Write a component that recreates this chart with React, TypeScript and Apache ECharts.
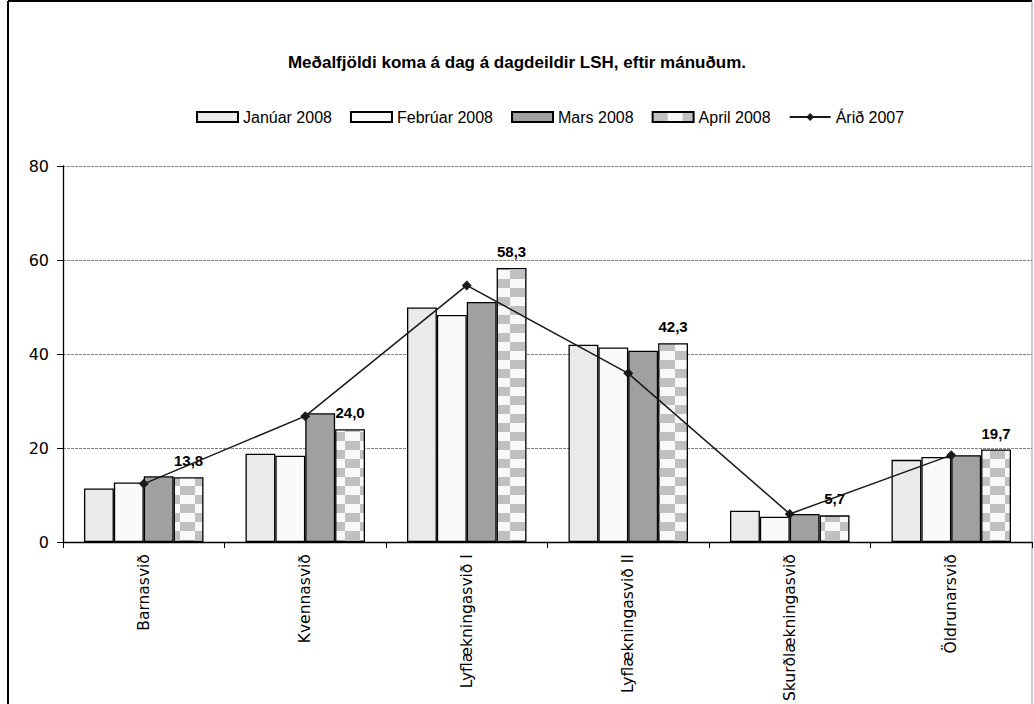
import React, { useEffect, useRef } from 'react';
import * as echarts from 'echarts';

const categories = ['Barnasvið', 'Kvennasvið', 'Lyflækningasvið I', 'Lyflækningasvið II', 'Skurðlækningasvið', 'Öldrunarsvið'];
const seriesNames = ['Janúar 2008', 'Febrúar 2008', 'Mars 2008', 'April 2008', 'Árið 2007'];
const jan2008 = [11.4, 18.8, 49.9, 42.0, 6.7, 17.5];
const feb2008 = [12.7, 18.4, 48.3, 41.4, 5.4, 18.1];
const mar2008 = [14.0, 27.4, 51.1, 40.7, 6.0, 18.5];
const apr2008 = [13.8, 24.0, 58.3, 42.3, 5.7, 19.7];
const year2007 = [12.4, 26.8, 54.6, 35.9, 6.0, 18.5];
const yTicks = { min: 0, max: 80, interval: 20 };

const TEXT_FONT = '"DejaVu Sans", sans-serif';
const ARIAL_FONT = '"Liberation Sans", Arial, sans-serif';

function makePattern(): HTMLCanvasElement {
  const c = document.createElement('canvas');
  c.width = 30;
  c.height = 18;
  const ctx = c.getContext('2d')!;
  ctx.fillStyle = '#f8f8f8';
  ctx.fillRect(0, 0, 30, 18);
  ctx.fillStyle = '#c0c0c0';
  ctx.fillRect(0, 0, 15, 9);
  ctx.fillRect(15, 9, 15, 9);
  return c;
}

export default function App() {
  const ref = useRef<HTMLDivElement>(null);
  useEffect(() => {
    if (!ref.current) return;
    const chart = echarts.init(ref.current, null, { renderer: 'svg' });
    const pattern = makePattern();
    const barStyle = (color: any) => ({ color, borderColor: '#000', borderWidth: 1.3 });
    const fmt = (p: any) => Number(p.value).toFixed(1).replace('.', ',');
    chart.setOption({
      animation: false,
      backgroundColor: '#fff',
      title: {
        text: 'Meðalfjöldi koma á dag á dagdeildir LSH, eftir mánuðum.',
        left: 'center',
        top: 49,
        textStyle: { fontFamily: ARIAL_FONT, fontSize: 17, fontWeight: 'bold', color: '#000' },
      },
      legend: {
        left: 191,
        top: 104,
        itemWidth: 41,
        itemHeight: 10,
        itemGap: 18,
        textStyle: { fontFamily: ARIAL_FONT, fontSize: 16, color: '#000' },
        data: seriesNames.map((n, i) => (i < 4 ? { name: n, icon: 'rect' } : { name: n })),
      },
      grid: { left: 63, right: 2, top: 166, bottom: 161, containLabel: false },
      xAxis: {
        type: 'category',
        data: categories,
        axisLine: { lineStyle: { color: '#000', width: 1.3 } },
        axisTick: { show: true, length: 6, lineStyle: { color: '#000' } },
        axisLabel: { rotate: 90, margin: 12, fontFamily: TEXT_FONT, fontSize: 15.5, color: '#000', interval: 0 },
      },
      yAxis: {
        type: 'value',
        min: yTicks.min,
        max: yTicks.max,
        interval: yTicks.interval,
        axisLine: { show: true, lineStyle: { color: '#000', width: 1.3 } },
        axisTick: { show: true, length: 6, lineStyle: { color: '#000' } },
        axisLabel: { margin: 14, fontFamily: TEXT_FONT, fontSize: 16, color: '#000' },
        splitLine: { show: true, lineStyle: { color: '#808080', width: 1, type: [3, 1] } },
      },
      series: [
        { name: seriesNames[0], type: 'bar', data: jan2008, itemStyle: barStyle('#eaeaea'), barGap: '0%', barCategoryGap: '26%' },
        { name: seriesNames[1], type: 'bar', data: feb2008, itemStyle: barStyle('#fafafa') },
        { name: seriesNames[2], type: 'bar', data: mar2008, itemStyle: barStyle('#a0a0a0') },
        {
          name: seriesNames[3],
          type: 'bar',
          data: apr2008,
          itemStyle: barStyle({ image: pattern, repeat: 'repeat' }),
          label: {
            show: true,
            position: 'top',
            distance: 9,
            formatter: fmt,
            fontFamily: ARIAL_FONT,
            fontSize: 15,
            fontWeight: 'bold',
            color: '#000',
          },
        },
        {
          name: seriesNames[4],
          type: 'line',
          data: year2007,
          symbol: 'diamond',
          symbolSize: 10,
          z: 5,
          lineStyle: { color: '#1a1a1a', width: 1.5 },
          itemStyle: { color: '#1a1a1a' },
        },
      ],
      graphic: [
        { type: 'line', shape: { x1: 8, y1: 1, x2: 8, y2: 704 }, style: { stroke: '#000', lineWidth: 2 } },
        { type: 'line', shape: { x1: 8, y1: 1, x2: 1032, y2: 1 }, style: { stroke: '#000', lineWidth: 2 } },
        { type: 'line', shape: { x1: 1032, y1: 1, x2: 1032, y2: 704 }, style: { stroke: '#999', lineWidth: 1 } },
      ],
    });
    return () => chart.dispose();
  }, []);
  return <div ref={ref} style={{ position: 'fixed', left: 0, top: 0, width: 1034, height: 704 }} />;
}
